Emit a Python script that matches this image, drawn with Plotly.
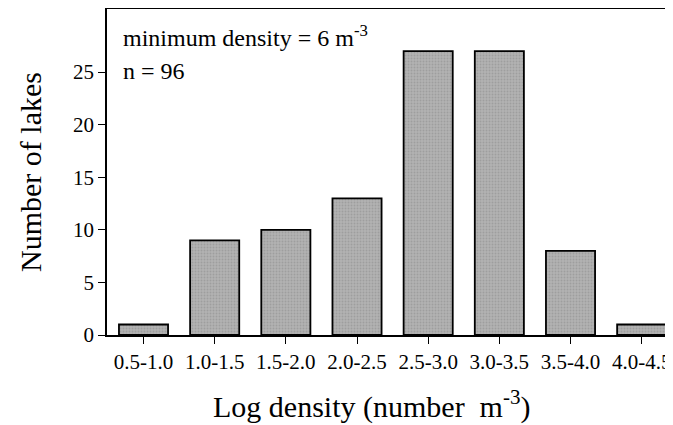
import plotly.graph_objects as go

categories = ["0.5-1.0", "1.0-1.5", "1.5-2.0", "2.0-2.5", "2.5-3.0", "3.0-3.5", "3.5-4.0", "4.0-4.5"]
counts = [1, 9, 10, 13, 27, 27, 8, 1]
y_ticks = [0, 5, 10, 15, 20, 25]

FONT = "Liberation Serif, Times New Roman, serif"

# page has an 8px body margin, so the figure is sized to fill the remaining window
W, H = 665, 417

fig = go.Figure(go.Bar(
    x=categories, y=counts, width=0.69,
    marker=dict(color="#ababab", line=dict(color="black", width=1.8),
                pattern=dict(shape=".", fgcolor="#8a8a8a", bgcolor="#b2b2b2", size=3, solidity=0.3)),
))

fig.update_layout(
    width=W, height=H,
    margin=dict(l=99, r=0, t=1, b=90),
    plot_bgcolor="white", paper_bgcolor="white",
    font=dict(family=FONT, color="black", size=21),
    showlegend=False,
)
fig.update_xaxes(
    range=[-0.513, 7.44], showline=True, linecolor="black", linewidth=1.5, mirror=True,
    ticks="outside", ticklen=7, tickcolor="black", tickwidth=1.2,
    tickfont=dict(size=21, family=FONT),
    showgrid=False,
)
fig.update_yaxes(
    range=[0, 31], tickvals=y_ticks, showline=True, linecolor="black", linewidth=1.5,
    ticks="outside", ticklen=7, tickcolor="black", tickwidth=1.2,
    tickfont=dict(size=21, family=FONT),
    showgrid=False, zeroline=False,
)
# axis titles
fig.add_annotation(x=0.468, y=0, xref="paper", yref="paper", xanchor="center", yanchor="middle",
                   yshift=-69, showarrow=False,
                   text="Log density (number  m<sup>-3</sup>)", font=dict(size=30, family=FONT))
fig.add_annotation(x=0, y=0.5, xref="paper", yref="paper", xanchor="center", yanchor="middle",
                   xshift=-77, textangle=-90, showarrow=False,
                   text="Number of lakes", font=dict(size=30, family=FONT))
# in-plot notes
fig.add_annotation(x=0, y=28.4, xref="paper", yref="y", xanchor="left", yanchor="middle",
                   xshift=14, showarrow=False,
                   text="minimum density = 6 m<sup>-3</sup>", font=dict(size=24, family=FONT))
fig.add_annotation(x=0, y=25.1, xref="paper", yref="y", xanchor="left", yanchor="middle",
                   xshift=14, showarrow=False,
                   text="n = 96", font=dict(size=24, family=FONT))

fig.write_html("out.html")
